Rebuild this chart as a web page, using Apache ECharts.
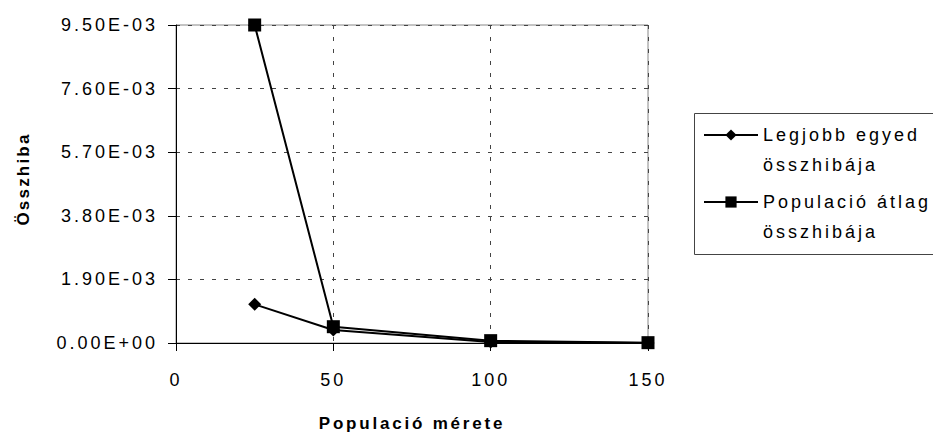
<!DOCTYPE html>
<html><head><meta charset="utf-8">
<script src="https://cdn.jsdelivr.net/npm/echarts@6/dist/echarts.min.js"></script>
<style>
html,body{margin:0;padding:0;background:#fff;}
#c{width:933px;height:432px;}
#c text{letter-spacing:3px;}
#c text[style*="bold"]{letter-spacing:2.8px;}
#c text[style*="800"]{letter-spacing:2.2px;}
</style></head><body><div id="c"></div>
<script>
const xValues = [25, 50, 100, 150];
const legjobbEgyed = [1.155e-3, 0.39e-3, 0.03e-3, 0.0];
const populacioAtlag = [9.5e-3, 0.487e-3, 0.07e-3, 0.01e-3];
const yTickLabels = ['0.00E+00', '1.90E-03', '3.80E-03', '5.70E-03', '7.60E-03', '9.50E-03'];
const xTickLabels = ['0', '50', '100', '150'];
const seriesNames = ['Legjobb egyed\nösszhibája', 'Populació átlag\nösszhibája'];
const xTitle = 'Populació mérete';
const yTitle = 'Összhiba';

const FONT = "'Liberation Sans', Arial, sans-serif";
const chart = echarts.init(document.getElementById('c'), null, {renderer: 'svg'});
chart.setOption({
  animation: false,
  backgroundColor: '#fff',
  textStyle: {fontFamily: FONT, color: '#000'},
  grid: {left: 176, right: 285, top: 25, bottom: 89, outerBoundsMode: 'none', containLabel: false,
    show: true, borderColor: '#888', borderWidth: 1, backgroundColor: 'transparent'},
  xAxis: {
    type: 'value', min: 0, max: 150, interval: 50,
    name: xTitle, nameLocation: 'middle', nameGap: 72,
    nameTextStyle: {fontSize: 17, fontWeight: 'bold', color: '#000', fontFamily: FONT},
    axisLine: {show: true, onZero: false, lineStyle: {color: '#000', width: 1}},
    axisTick: {show: true, length: 8, inside: false, lineStyle: {color: '#000'}},
    axisLabel: {fontSize: 18, color: '#000', margin: 28, fontFamily: FONT,
      formatter: (v) => { const i = Math.round(v / 50); return xTickLabels[i] ?? ''; }},
    splitLine: {show: true, lineStyle: {color: '#444', type: [4, 8], width: 1}}
  },
  yAxis: {
    type: 'value', min: 0, max: 0.0095, interval: 0.0019,
    name: yTitle, nameLocation: 'middle', nameGap: 144,
    nameTextStyle: {fontSize: 17, fontWeight: 800, color: '#000', fontFamily: FONT, padding: [0, 0, 0, 10]},
    axisLine: {show: true, lineStyle: {color: '#000', width: 1}},
    axisTick: {show: true, length: 8, inside: false, lineStyle: {color: '#000'}},
    axisLabel: {fontSize: 18, color: '#000', margin: 18, fontFamily: FONT,
      formatter: (v) => { const i = Math.round(v / 0.0019); return yTickLabels[i] ?? ''; }},
    splitLine: {show: true, lineStyle: {color: '#444', type: [4, 8], width: 1}}
  },
  legend: {
    orient: 'vertical', left: 703, top: 90,
    padding: 0,
    itemWidth: 54, itemHeight: 14, itemGap: -23,
    borderWidth: 0,
    formatter: (name) => '{s| }\n' + name,
    textStyle: {fontSize: 18, lineHeight: 30, color: '#000', fontFamily: FONT,
      rich: {s: {height: 30, lineHeight: 30, fontSize: 18}}},
    data: seriesNames
  },
  graphic: [{
    type: 'rect', z: 0, silent: true,
    shape: {x: 694.5, y: 113.5, width: 300, height: 141},
    style: {fill: '#fff', stroke: '#444', lineWidth: 1}
  }],
  series: [
    {type: 'line', name: seriesNames[0], data: xValues.map((x, i) => [x, legjobbEgyed[i]]),
      symbol: 'diamond', symbolSize: 13, showAllSymbol: true,
      lineStyle: {color: '#000', width: 2}, itemStyle: {color: '#000'}, z: 3},
    {type: 'line', name: seriesNames[1], data: xValues.map((x, i) => [x, populacioAtlag[i]]),
      symbol: 'rect', symbolSize: 13, showAllSymbol: true,
      lineStyle: {color: '#000', width: 2}, itemStyle: {color: '#000'}, z: 4}
  ]
});
</script></body></html>
